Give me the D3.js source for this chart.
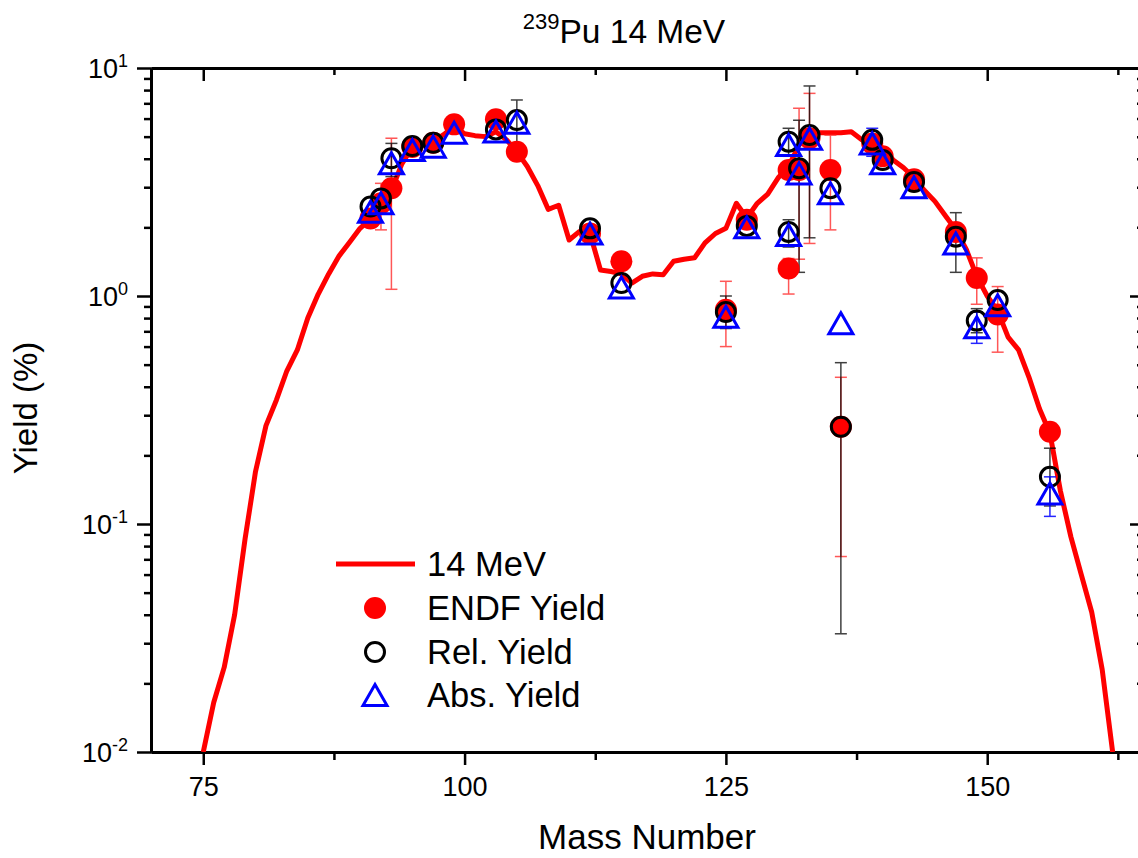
<!DOCTYPE html>
<html>
<head>
<meta charset="utf-8">
<script src="https://cdn.jsdelivr.net/npm/d3@7"></script>
<style>
  body { margin: 0; background: #fff; }
  svg { font-family: "Liberation Sans", Arial, sans-serif; }
</style>
</head>
<body>
<svg id="chart" width="1138" height="858"></svg>
<script>
// 14 MeV chain yield curve
const curveMass = d3.range(75, 163);
const curveYield = [
  0.0100, 0.0165, 0.0235, 0.040, 0.086, 0.17, 0.27, 0.35, 0.47, 0.58,
  0.80, 1.02, 1.25, 1.50, 1.72, 1.98, 2.18, 2.40, 2.90, 3.80,
  4.50, 4.62, 4.76, 5.10, 5.55, 5.15, 5.05, 5.00, 5.25, 4.85,
  4.30, 3.70, 3.05, 2.40, 2.50, 1.76, 1.92, 1.88, 1.30, 1.28,
  1.25, 1.14, 1.22, 1.25, 1.24, 1.42, 1.45, 1.47, 1.71, 1.88,
  1.98, 2.55, 2.20, 2.55, 2.80, 3.30, 3.70, 4.60, 5.10, 5.20,
  5.20, 5.20, 5.25, 4.85, 4.60, 4.45, 3.95, 3.65, 3.30, 2.90,
  2.60, 2.25, 1.95, 1.60, 1.22, 1.00, 0.86, 0.66, 0.58, 0.44,
  0.32, 0.25, 0.14, 0.088, 0.060, 0.041, 0.023, 0.0100
];

// ENDF yield points (mass, yield, error low, error high)
const endfMass  = [91, 92, 93, 95, 97, 99, 103, 105, 112, 115, 125, 127, 131, 131, 132, 133, 135, 136, 139, 140, 143, 147, 149, 151, 156];
const endfYield = [2.19, 2.55, 2.97, 4.50, 4.70, 5.66, 5.96, 4.29, 1.88, 1.42, 0.87, 2.16, 3.57, 1.32, 3.57, 4.92, 3.57, 0.267, 4.67, 4.10, 3.25, 1.91, 1.20, 0.83, 0.254];
const endfLow   = [null, 1.95, 1.07, null, null, null, null, null, null, null, 0.60, null, null, 1.02, 1.45, 1.70, 1.95, 0.072, null, null, null, null, 0.92, 0.567, null];
const endfHigh  = [null, 3.12, 4.92, null, null, null, null, null, null, null, 1.16, null, null, 1.46, 6.66, 7.74, 5.08, 0.44, null, null, null, null, 1.47, 1.10, null];

// relative yield points
const relMass  = [91, 92, 93, 95, 97, 103, 105, 112, 115, 125, 127, 131, 131, 132, 133, 135, 136, 139, 140, 143, 147, 149, 151, 156];
const relYield = [2.47, 2.68, 4.02, 4.55, 4.70, 5.38, 5.91, 1.98, 1.14, 0.85, 2.03, 4.75, 1.91, 3.63, 5.08, 2.97, 0.267, 4.84, 3.95, 3.16, 1.82, 0.78, 0.96, 0.161];
const relLow   = [null, null, 3.34, null, null, null, 4.52, null, null, 0.72, null, 4.10, 1.64, 1.27, 1.80, null, 0.033, null, null, null, 1.27, 0.69, null, 0.12];
const relHigh  = [null, null, 4.67, null, null, null, 7.24, null, null, 1.00, null, 5.44, 2.16, 5.90, 8.34, null, 0.51, null, null, null, 2.32, 0.88, null, 0.215];

// absolute yield points
const absMass  = [91, 92, 93, 95, 97, 99, 103, 105, 112, 115, 125, 127, 131, 131, 132, 133, 135, 136, 139, 140, 143, 147, 149, 151, 156];
const absYield = [2.34, 2.55, 3.82, 4.37, 4.52, 5.20, 5.26, 5.75, 1.88, 1.09, 0.81, 2.00, 4.59, 1.85, 3.45, 4.90, 2.82, 0.76, 4.67, 3.82, 3.00, 1.70, 0.73, 0.91, 0.136];
const absLow   = [null, null, null, null, null, null, null, null, null, null, null, null, null, null, null, null, null, null, 4.10, null, null, null, 0.62, null, 0.108];
const absHigh  = [null, null, null, null, null, null, null, null, null, null, null, null, null, null, null, null, null, null, 5.44, null, null, null, 0.85, null, 0.161];

// axis ticks
const xTicks = [75, 100, 125, 150];
const xMinor = [87.5, 112.5, 137.5, 162.5];
const yTicks = [0.01, 0.1, 1, 10];
const yTickExp = ["-2", "-1", "0", "1"];

const legendLabels = ["14 MeV", "ENDF Yield", "Rel. Yield", "Abs. Yield"];

// layout
const plotLeft = 151, plotRight = 1144, plotTop = 68, plotBottom = 752;

const svg = d3.select("#chart");

const x = d3.scaleLinear().domain([70, 165]).range([plotLeft, plotRight]);
const y = d3.scaleLog().domain([0.01, 10]).range([plotBottom, plotTop]);

svg.append("clipPath").attr("id", "plotClip")
  .append("rect")
  .attr("x", plotLeft).attr("y", plotTop)
  .attr("width", plotRight - plotLeft).attr("height", plotBottom - plotTop);

// minor log ticks
let yMinor = [];
[0.01, 0.1, 1].forEach(function (d) {
  for (let k = 2; k <= 9; k++) yMinor.push(d * k);
});

// bottom axis
let gBottom = svg.append("g").attr("transform", "translate(0," + plotBottom + ")");
gBottom.call(d3.axisBottom(x).tickValues(xTicks).tickSize(13).tickSizeOuter(0).tickFormat(d3.format("d")));
gBottom.append("g").call(d3.axisBottom(x).tickValues(xMinor).tickSize(8).tickSizeOuter(0).tickFormat(""));

// top axis (ticks inside)
let gTop = svg.append("g").attr("transform", "translate(0," + plotTop + ")");
gTop.call(d3.axisBottom(x).tickValues(xTicks).tickSize(13).tickSizeOuter(0).tickFormat(""));
gTop.append("g").call(d3.axisBottom(x).tickValues(xMinor).tickSize(7).tickSizeOuter(0).tickFormat(""));

// left axis
let gLeft = svg.append("g").attr("transform", "translate(" + plotLeft + ",0)");
gLeft.call(d3.axisLeft(y).tickValues(yTicks).tickSize(14).tickSizeOuter(0).tickFormat(""));
gLeft.append("g").call(d3.axisLeft(y).tickValues(yMinor).tickSize(7).tickSizeOuter(0).tickFormat(""));

// right axis (ticks inside)
let gRight = svg.append("g").attr("transform", "translate(" + plotRight + ",0)");
gRight.call(d3.axisRight(y).tickValues(yTicks).tickSize(-14).tickSizeOuter(0).tickFormat(""));
gRight.append("g").call(d3.axisRight(y).tickValues(yMinor).tickSize(-7).tickSizeOuter(0).tickFormat(""));

svg.selectAll(".domain").attr("stroke", "#000").attr("stroke-width", 3);
svg.selectAll(".tick line").attr("stroke", "#000").attr("stroke-width", 2.5);
gBottom.selectAll(".tick text")
  .attr("font-size", 27)
  .attr("font-family", "Liberation Sans, Arial, sans-serif")
  .attr("fill", "#000")
  .attr("y", 25)
  .attr("dy", "0.71em");

// y tick labels 10^n
let yLab = svg.append("g").selectAll("text")
  .data(yTicks)
  .enter()
  .append("text")
  .attr("x", 128)
  .attr("y", function (d) { return y(d) + 10; })
  .attr("text-anchor", "end")
  .attr("font-size", 27)
  .attr("fill", "#000");
yLab.append("tspan").text("10");
yLab.append("tspan")
  .attr("font-size", 18)
  .attr("dy", -11)
  .text(function (d, i) { return yTickExp[i]; });

// axis titles
svg.append("text")
  .attr("x", 647).attr("y", 849)
  .attr("text-anchor", "middle")
  .attr("font-size", 35)
  .text("Mass Number");

svg.append("text")
  .attr("transform", "translate(37,408) rotate(-90)")
  .attr("text-anchor", "middle")
  .attr("font-size", 33)
  .text("Yield (%)");

// title
let title = svg.append("text")
  .attr("x", 624).attr("y", 43)
  .attr("text-anchor", "middle")
  .attr("font-size", 33.5);
title.append("tspan").attr("font-size", 22).attr("dy", -14).text("239");
title.append("tspan").attr("dy", 14).text("Pu 14 MeV");

// plot content
let plot = svg.append("g").attr("clip-path", "url(#plotClip)");

let line = d3.line()
  .x(function (d, i) { return x(curveMass[i]); })
  .y(function (d) { return y(d); });

plot.append("path")
  .datum(curveYield)
  .attr("d", line)
  .attr("fill", "none")
  .attr("stroke", "#ff0000")
  .attr("stroke-width", 5)
  .attr("stroke-linejoin", "round");

// error bars
function drawErrors(mass, low, high, color, opacity) {
  let g = plot.append("g")
    .attr("stroke", color)
    .attr("stroke-width", 1.5)
    .attr("opacity", opacity);
  mass.forEach(function (m, i) {
    if (low[i] == null) return;
    let cx = x(m);
    g.append("line").attr("x1", cx).attr("x2", cx).attr("y1", y(low[i])).attr("y2", y(high[i]));
    g.append("line").attr("x1", cx - 6).attr("x2", cx + 6).attr("y1", y(low[i])).attr("y2", y(low[i]));
    g.append("line").attr("x1", cx - 6).attr("x2", cx + 6).attr("y1", y(high[i])).attr("y2", y(high[i]));
  });
}

drawErrors(endfMass, endfLow, endfHigh, "#ff2020", 0.75);
drawErrors(relMass, relLow, relHigh, "#000", 0.75);
drawErrors(absMass, absLow, absHigh, "#0000ff", 0.85);

// triangle with its box centred on the point
function triPath(cx, cy) {
  let w = 12, h = 10.5;
  return "M" + cx + "," + (cy - h) + "L" + (cx + w) + "," + (cy + h) + "L" + (cx - w) + "," + (cy + h) + "Z";
}

plot.append("g").selectAll("circle")
  .data(endfMass)
  .enter()
  .append("circle")
  .attr("cx", function (d) { return x(d); })
  .attr("cy", function (d, i) { return y(endfYield[i]); })
  .attr("r", 11)
  .attr("fill", "#ff0000");

plot.append("g").selectAll("circle")
  .data(relMass)
  .enter()
  .append("circle")
  .attr("cx", function (d) { return x(d); })
  .attr("cy", function (d, i) { return y(relYield[i]); })
  .attr("r", 9.5)
  .attr("fill", "none")
  .attr("stroke", "#000")
  .attr("stroke-width", 3);

plot.append("g").selectAll("path")
  .data(absMass)
  .enter()
  .append("path")
  .attr("d", function (d, i) { return triPath(x(d), y(absYield[i])); })
  .attr("fill", "none")
  .attr("stroke", "#0000ff")
  .attr("stroke-width", 3)
  .attr("stroke-linejoin", "miter");

// legend
let legend = svg.append("g");
let legY = [564, 608, 652, 695];

legend.append("line")
  .attr("x1", 336).attr("x2", 415)
  .attr("y1", legY[0]).attr("y2", legY[0])
  .attr("stroke", "#ff0000").attr("stroke-width", 5);
legend.append("circle")
  .attr("cx", 375).attr("cy", legY[1]).attr("r", 11).attr("fill", "#ff0000");
legend.append("circle")
  .attr("cx", 375).attr("cy", legY[2]).attr("r", 9.5)
  .attr("fill", "none").attr("stroke", "#000").attr("stroke-width", 3);
legend.append("path")
  .attr("d", triPath(375, legY[3]))
  .attr("fill", "none").attr("stroke", "#0000ff").attr("stroke-width", 3);

legend.selectAll("text")
  .data(legendLabels)
  .enter()
  .append("text")
  .attr("x", 427)
  .attr("y", function (d, i) { return legY[i] + 12; })
  .attr("font-size", 34.5)
  .text(function (d) { return d; });
</script>
</body>
</html>
